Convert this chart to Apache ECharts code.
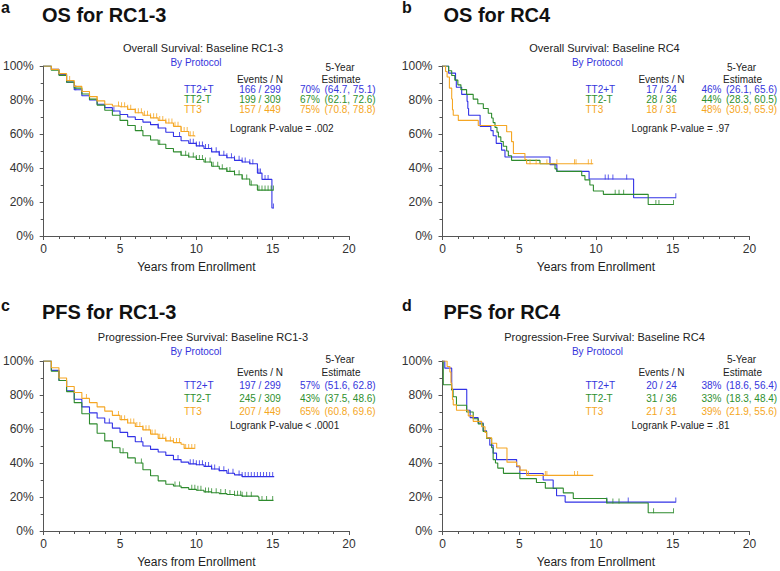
<!DOCTYPE html>
<html><head><meta charset="utf-8">
<script src="https://cdn.jsdelivr.net/npm/echarts@6/dist/echarts.min.js"></script>
<style>html,body{margin:0;padding:0;background:#fff}#c{width:780px;height:571px}</style>
</head><body><div id="c"></div>
<script>
// ---------- DATA ----------
const xTicks = [0, 5, 10, 15, 20];
const yTicks = [0, 20, 40, 60, 80, 100];
const groups = ['TT2+T', 'TT2-T', 'TT3'];
const panelLetters = ['a', 'b', 'c', 'd'];
const panelTitles = ['OS for RC1-3', 'OS for RC4', 'PFS for RC1-3', 'PFS for RC4'];
const subTitles = ['Overall Survival: Baseline RC1-3', 'Overall Survival: Baseline RC4',
  'Progression-Free Survival: Baseline RC1-3', 'Progression-Free Survival: Baseline RC4'];
const byLabel = 'By Protocol';
const xName = 'Years from Enrollment';
const eventsN = [['166 / 299', '199 / 309', '157 / 449'], ['17 / 24', '28 / 36', '18 / 31'],
  ['197 / 299', '245 / 309', '207 / 449'], ['20 / 24', '31 / 36', '21 / 31']];
const est5 = [['70%', '67%', '75%'], ['46%', '44%', '48%'], ['57%', '43%', '65%'], ['38%', '33%', '39%']];
const ci5 = [['(64.7, 75.1)', '(62.1, 72.6)', '(70.8, 78.8)'], ['(26.1, 65.6)', '(28.3, 60.5)', '(30.9, 65.9)'],
  ['(51.6, 62.8)', '(37.5, 48.6)', '(60.8, 69.6)'], ['(18.6, 56.4)', '(18.3, 48.4)', '(21.9, 55.6)']];
const logrank = ['Logrank P-value = .002', 'Logrank P-value = .97', 'Logrank P-value < .0001', 'Logrank P-value = .81'];

// Panel a: OS RC1-3 (years, % surviving)
const osA_TT2pT = [[0,100],[0.5,98],[1,95],[1.5,90.5],[2,86],[2.5,82.5],[3,80],[3.5,77.5],[4,75.5],[4.5,73.5],[5,71.5],[5.5,70],[6,68.5],[6.5,67],[7,65.5],[7.5,63.5],[8,61],[8.5,58.5],[9,56],[9.5,54.5],[10,53],[10.5,51.5],[11,49.5],[11.5,47.5],[12,46],[12.5,44.5],[13,43.5],[13.5,42.5],[14,37],[14.3,33.3],[14.95,16.5],[15.05,16.5]];
const osA_TT2mT = [[0,100],[0.5,97.5],[1,94.5],[1.5,90.5],[2,87],[2.5,83.5],[3,80.5],[3.5,77],[4,74],[4.5,71],[5,68],[5.5,65],[6,62],[6.5,59],[7,56.5],[7.5,54],[8,51.5],[8.5,49.5],[9,47.5],[9.5,46.5],[10,45],[10.5,43.5],[11,41],[11.5,39.5],[12,38],[12.5,36],[13,33.5],[13.5,30],[14,27],[15.05,27]];
const osA_TT3 = [[0,100],[0.5,98],[1,95.5],[1.5,91.5],[2,88],[2.5,85],[3,82],[3.5,79.5],[4,77.5],[4.5,76.5],[5,76],[5.5,74.5],[6,72.5],[6.5,71],[7,69.5],[7.5,68],[8,66.5],[8.5,64.5],[9,61.5],[9.5,59],[9.9,58.5]];
const osA_cens_TT2pT = [2.1,4.6,7.5,8.9,9.6,9.8,10.0,10.2,10.4,10.6,10.8,11.0,11.3,11.5,11.8,12.0,12.3,12.5,12.8,13.0,13.2,13.5,13.7,14.1,14.2,14.5,14.7,15.05];
const osA_cens_TT2mT = [3.0,6.4,7.6,9.0,9.3,9.5,9.8,10.0,10.2,10.4,10.6,10.9,11.1,11.4,11.7,12.0,12.2,12.5,12.8,13.0,13.3,13.6,14.1,14.3,14.5,14.7,14.9,15.05];
const osA_cens_TT3 = [1.7,3.5,4.9,5.1,5.3,5.5,5.7,6.0,6.2,6.4,6.6,6.8,7.0,7.2,7.4,7.6,7.8,8.0,8.2,8.4,8.6,8.8,9.0,9.2,9.4,9.6,9.8];

// Panel b: OS RC4
const osB_TT2pT = [[0,100],[0.4,95.8],[0.85,91.7],[0.9,87.5],[1.25,83.3],[1.6,79.2],[1.65,75],[1.7,71],[2.45,64.5],[3.15,62],[3.3,59],[3.5,54.5],[3.85,50.5],[4.07,46.5],[7.0,42],[7.45,38],[9.55,33.5],[12.45,22.5],[15.2,22.5]];
const osB_TT2mT = [[0,100],[0.4,97.2],[0.6,94.4],[0.8,91.7],[1.0,88.9],[1.2,86.1],[1.57,83.3],[2.0,80.5],[2.3,77.8],[2.66,75],[2.98,72.2],[3.2,69.4],[3.3,66.7],[3.42,63.9],[3.55,61.1],[3.64,58.3],[3.8,55.6],[3.96,52.8],[4.18,50],[4.29,47.2],[4.5,44.5],[6.35,42.5],[7.33,39.5],[7.45,38],[9.07,35.5],[9.28,33],[9.6,30],[9.83,26.5],[10.48,24.5],[13.4,18.5],[15.05,18.5]];
const osB_TT3 = [[0,100],[0.2,96.8],[0.3,93.5],[0.45,87],[0.6,80.6],[0.65,74.2],[0.7,71],[1.03,68],[2.33,65],[4.18,61.3],[4.5,55.5],[4.62,48.5],[5.37,45],[5.48,42.5],[9.82,42.5]];
const osB_cens_TT2pT = [10.6,10.8,11.1,12.0,15.2];
const osB_cens_TT2mT = [11.25,11.5,11.8,13.9,14.1,15.05];
const osB_cens_TT3 = [5.7,6.1,6.8,7.45,8.6,8.7,9.5,9.7];

// Panel c: PFS RC1-3
const pfsC_TT2pT = [[0,100],[0.5,94.5],[1,88.5],[1.5,82.5],[2,77.5],[2.5,73],[3,69.5],[3.5,66.5],[4,63.5],[4.5,60.5],[5,58],[5.5,55.5],[6,52.5],[6.5,50],[7,48],[7.5,46.5],[8,44.5],[8.5,42],[9,40.5],[9.5,39.5],[10,39],[10.5,38],[11,36.5],[11.5,35.5],[12,34],[12.5,33],[13,32],[15.1,32]];
const pfsC_TT2mT = [[0,100],[0.5,94],[1,88.5],[1.5,82],[2,75.5],[2.5,69],[3,63],[3.5,57.5],[4,53],[4.5,49],[5,46],[5.5,43],[6,40],[6.5,36],[7,32.5],[7.5,29.5],[8,27.5],[8.5,26.5],[9,25.5],[9.5,24.5],[10,24],[10.5,23],[11,22.5],[11.5,22],[12,21.5],[12.5,21],[13,20.5],[14.05,20],[14.1,18],[15.05,18]];
const pfsC_TT3 = [[0,100],[0.5,96],[1,90],[1.5,85],[2,81.5],[2.5,78],[3,75.5],[3.5,73],[4,70.5],[4.5,68],[5,65.5],[5.5,63.5],[6,61.5],[6.5,59.5],[7,57],[7.5,54.5],[8,53],[8.5,52],[9,51],[9.2,48.6],[9.9,48.6]];
const pfsC_cens_TT2pT = [4.3,6.4,8.8,9.6,9.8,10.0,10.2,10.4,10.6,10.8,11.0,11.2,11.5,11.8,12.1,12.4,12.8,13.0,13.2,13.4,13.6,13.8,14.0,14.2,14.4,14.6,14.8,15.0];
const pfsC_cens_TT2mT = [5.2,6.4,8.6,8.9,9.7,9.9,10.1,10.3,10.6,10.8,11.0,11.3,11.6,11.9,12.2,12.5,12.7,12.9,13.0,13.3,13.6,14.3,14.6,15.0];
const pfsC_cens_TT3 = [2.8,4.9,5.1,5.3,5.5,5.7,5.9,6.1,6.3,6.5,6.7,6.9,7.1,7.3,7.6,7.8,8.0,8.3,8.5,8.7,8.9,9.3,9.5,9.7,9.9];

// Panel d: PFS RC4
const pfsD_TT2pT = [[0,100],[0.15,95.8],[0.6,83.3],[1.58,71],[1.8,66.7],[2.32,63.5],[2.65,59],[2.87,55],[3.08,50.5],[3.3,45.8],[3.52,42],[4.83,37.8],[5.04,33.8],[6.56,30],[7.21,25],[7.43,20.7],[7.99,17],[15.2,17]];
const pfsD_TT2mT = [[0,100],[0.05,86],[0.59,83],[0.69,79],[0.91,74],[1.57,70],[2.0,66],[2.33,63],[2.65,58.5],[2.87,54.5],[3.2,49],[3.3,42],[3.45,40],[3.6,37],[3.97,33.9],[5.04,30.8],[6.12,28.5],[6.7,25.2],[7.87,22.4],[8.52,19.1],[10.7,16.5],[13.4,10.7],[15.05,10.7]];
const pfsD_TT3 = [[0,100],[0.3,96.8],[0.48,93.5],[0.55,87],[0.6,83.9],[0.65,77.4],[0.7,74.2],[0.91,71],[1.68,67.7],[2.0,64.5],[2.55,61.3],[2.77,58],[2.88,54.8],[3.2,51.6],[3.53,48.8],[4.2,40.5],[4.83,38.3],[5.04,35.8],[5.48,32.7],[9.82,32.7]];
const pfsD_cens_TT2pT = [10.7,12.1,15.2];
const pfsD_cens_TT2mT = [10.7,11.1,11.5,13.75,15.05];
const pfsD_cens_TT3 = [5.6,6.7,6.8,8.6,8.8];

// ---------- RENDER ----------
const curves = [[osA_TT2pT, osA_TT2mT, osA_TT3], [osB_TT2pT, osB_TT2mT, osB_TT3],
  [pfsC_TT2pT, pfsC_TT2mT, pfsC_TT3], [pfsD_TT2pT, pfsD_TT2mT, pfsD_TT3]];
const censors = [[osA_cens_TT2pT, osA_cens_TT2mT, osA_cens_TT3], [osB_cens_TT2pT, osB_cens_TT2mT, osB_cens_TT3],
  [pfsC_cens_TT2pT, pfsC_cens_TT2mT, pfsC_cens_TT3], [pfsD_cens_TT2pT, pfsD_cens_TT2mT, pfsD_cens_TT3]];

const lineColors = ['#3232e6', '#2e8b2e', '#f5a623'];
const textColors = ['#3535dc', '#2e8f2e', '#f5a623'];
const FONT = '"Liberation Sans", Arial, Helvetica, sans-serif';
const axisColor = '#555';

function survAt(curve, t) {
  let s = curve[0][1];
  for (const [x, y] of curve) { if (x <= t) s = y; else break; }
  return s;
}

const gx = [41, 442.5, 41, 442.5];
const gy = [66, 66, 361, 361];
const gw = [308, 307, 308, 307];
const gh = 170;

const grid = [], xAxis = [], yAxis = [], series = [];
for (let p = 0; p < 4; p++) {
  grid.push({ left: gx[p], top: gy[p], width: gw[p], height: gh });
  xAxis.push({
    gridIndex: p, type: 'value', min: xTicks[0], max: xTicks[xTicks.length - 1], interval: 5,
    axisLine: { lineStyle: { color: axisColor, width: 1 } },
    axisTick: { show: true, length: 4, lineStyle: { color: axisColor } },
    minorTick: { show: true, splitNumber: 5, length: 3, lineStyle: { color: axisColor } },
    splitLine: { show: false },
    axisLabel: { color: '#333', fontSize: 12, fontFamily: FONT, margin: 7 },
    name: xName, nameLocation: 'middle', nameGap: 25,
    nameTextStyle: { color: '#222', fontSize: 12, fontFamily: FONT }
  });
  yAxis.push({
    gridIndex: p, type: 'value', min: yTicks[0], max: yTicks[yTicks.length - 1], interval: 20,
    axisLine: { show: true, lineStyle: { color: axisColor, width: 1 } },
    axisTick: { show: true, length: 4, lineStyle: { color: axisColor } },
    minorTick: { show: true, splitNumber: 2, length: 3, lineStyle: { color: axisColor } },
    splitLine: { show: false },
    axisLabel: { color: '#333', fontSize: 12, fontFamily: FONT, margin: 10, formatter: '{value}%' }
  });
  for (let g = 0; g < 3; g++) {
    const curve = curves[p][g];
    series.push({
      type: 'line', xAxisIndex: p, yAxisIndex: p, data: curve, step: 'end',
      symbol: 'none', showSymbol: false, silent: true, animation: false,
      lineStyle: { color: lineColors[g], width: 1.1 }, z: 2 + g
    });
    series.push({
      type: 'scatter', xAxisIndex: p, yAxisIndex: p,
      data: censors[p][g].map(t => [t, survAt(curve, t)]),
      symbol: 'rect', symbolSize: [1, 5], symbolOffset: [0, -2],
      itemStyle: { color: lineColors[g] }, silent: true, animation: false, z: 2 + g
    });
  }
}

// text layout
const topY = { letter: 7.7, title: 14.7, sub: 48, by: 62, yr: 67, ev: 79, rows: [89, 99, 109], lr: 128.3 };
const botY = { letter: 305.4, title: 312, sub: 337, by: 351, yr: 359, ev: 372.3, rows: [385.3, 398.3, 411], lr: 425 };
const letterX = [1, 402, 1, 402];
const graphic = [];
function txt(x, y, text, opts) {
  graphic.push({
    type: 'text', x: x, y: y, silent: true,
    style: Object.assign({ text: text, fill: '#222', font: '11px ' + FONT,
      textAlign: 'left', textVerticalAlign: 'middle', align: 'left', verticalAlign: 'middle' }, opts || {})
  });
}
for (let p = 0; p < 4; p++) {
  const L = p < 2 ? topY : botY;
  const ox = gx[p];
  txt(letterX[p], L.letter, panelLetters[p], { font: 'bold 16px ' + FONT, fill: '#111' });
  txt(ox + 1, L.title, panelTitles[p], { font: 'bold 20px ' + FONT, fill: '#111' });
  txt(ox + 162, L.sub, subTitles[p], { font: '11px ' + FONT, fill: '#222', textAlign: 'center', align: 'center' });
  txt(ox + 155, L.by, byLabel, { font: '10px ' + FONT, fill: '#3535dc', textAlign: 'center', align: 'center' });
  txt(ox + 299, L.yr, '5-Year', { font: '10px ' + FONT, fill: '#222', textAlign: 'center', align: 'center' });
  txt(ox + 219, L.ev, 'Events / N', { font: '10px ' + FONT, fill: '#222', textAlign: 'center', align: 'center' });
  txt(ox + 300, L.ev, 'Estimate', { font: '10px ' + FONT, fill: '#222', textAlign: 'center', align: 'center' });
  for (let g = 0; g < 3; g++) {
    const y = L.rows[g];
    const c = textColors[g];
    txt(ox + 143, y, groups[g], { font: '10px ' + FONT, fill: c });
    txt(ox + 219, y, eventsN[p][g], { font: '10px ' + FONT, fill: c, textAlign: 'center', align: 'center' });
    txt(ox + 259, y, est5[p][g], { font: '10px ' + FONT, fill: c });
    txt(ox + 283.5, y, ci5[p][g], { font: '10px ' + FONT, fill: c });
  }
  txt(ox + 189, L.lr, logrank[p], { font: '10px ' + FONT, fill: '#222' });
}

const chart = echarts.init(document.getElementById('c'), null, { renderer: 'svg' });
chart.setOption({ animation: false, backgroundColor: '#fff', grid, xAxis, yAxis, series, graphic });
</script>
</body></html>
